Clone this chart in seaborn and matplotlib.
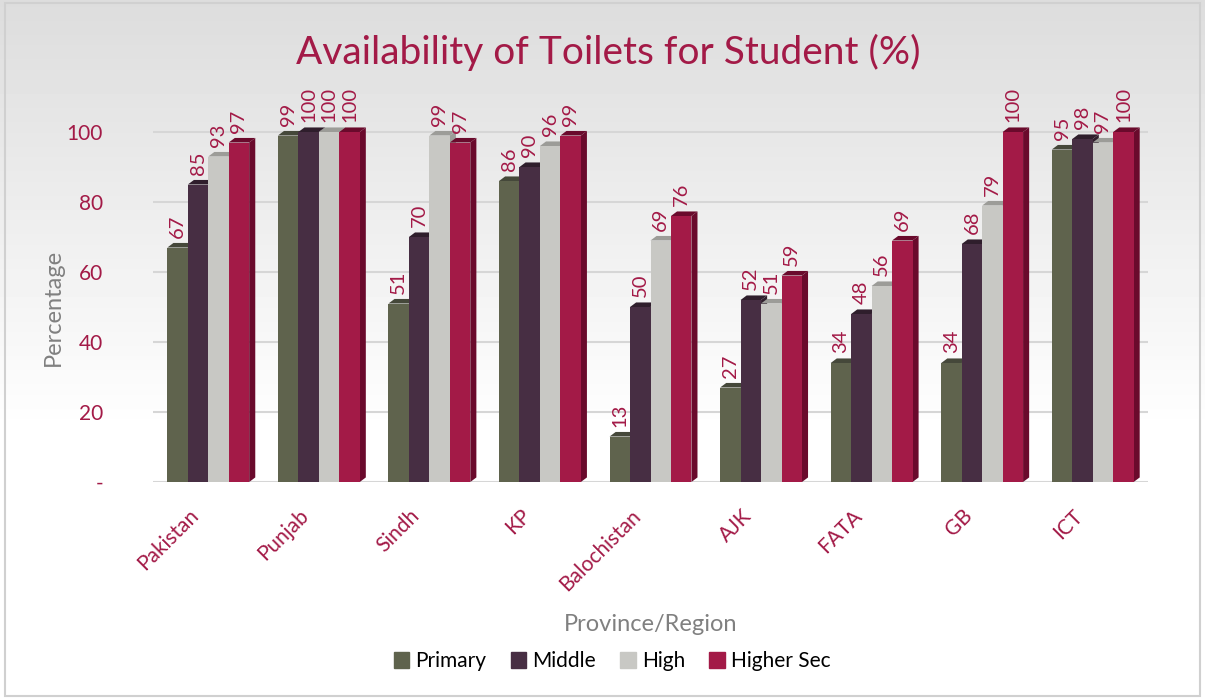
import matplotlib.pyplot as plt
import matplotlib.patches as mpatches
import matplotlib.transforms as mtransforms
import pandas as pd
import seaborn as sns
import numpy as np

# Data
regions = ['Pakistan', 'Punjab', 'Sindh', 'KP', 'Balochistan', 'AJK', 'FATA', 'GB', 'ICT']
primary = [67, 99, 51, 86, 13, 27, 34, 34, 95]
middle = [85, 100, 70, 90, 50, 52, 48, 68, 98]
high = [93, 100, 99, 96, 69, 51, 56, 79, 97]
higher_sec = [97, 100, 97, 99, 76, 59, 69, 100, 100]
levels = ['Primary', 'Middle', 'High', 'Higher Sec']
colors = ['#5f634d', '#472e43', '#c8c8c4', '#a31a47']
side_colors = ['#45483a', '#2f1e2c', '#9c9c98', '#6a0a2c']
y_ticks = [0, 20, 40, 60, 80, 100]
y_ticklabels = ['-', '20', '40', '60', '80', '100']

crimson = '#a31a47'
gray_txt = '#808080'

df = pd.DataFrame({'Region': regions, 'Primary': primary, 'Middle': middle,
                   'High': high, 'Higher Sec': higher_sec})
df_long = df.melt(id_vars='Region', var_name='Level', value_name='Value')

sns.set_style('white')
plt.rcParams['font.family'] = ['Lato', 'DejaVu Sans']

fig = plt.figure(figsize=(12.05, 6.99), dpi=100)

# background gradient
bg = fig.add_axes([0, 0, 1, 1], zorder=-5)
grad = np.ones((200, 1))
ramp = np.clip(np.linspace(0, 1, 200) / 0.62, 0, 1)
grad[:, 0] = 0.865 + (1 - 0.865) * ramp
bg.imshow(grad, aspect='auto', cmap='gray', vmin=0, vmax=1, extent=[0, 1, 0, 1], origin='upper')
bg.add_patch(mpatches.Rectangle((0.004, 0.004), 0.992, 0.992, fill=False, ec='#d0d0d0', lw=1.5))
bg.set_xlim(0, 1)
bg.set_ylim(0, 1)
bg.axis('off')

ax = fig.add_axes([153 / 1205, 1 - 482 / 699, (1148 - 153) / 1205, (482 - 80) / 699])
ax.patch.set_alpha(0)

sns.barplot(data=df_long, x='Region', y='Value', hue='Level', hue_order=levels,
            palette=colors, order=regions, width=0.74, ax=ax, saturation=1,
            edgecolor='none', zorder=3)
ax.legend_.remove()

ymax = (482 - 80) / 3.5
ax.set_xlim(-0.5, len(regions) - 0.5)
ax.set_ylim(0, ymax)

# pseudo-3D faces plus value labels
dx, dy = 0.055, 1.3
for i, cont in enumerate(ax.containers):
    for bar in cont:
        x, w, h = bar.get_x(), bar.get_width(), bar.get_height()
        side = mpatches.Polygon([(x + w, 0), (x + w + dx, dy), (x + w + dx, h + dy), (x + w, h)],
                                closed=True, fc=side_colors[i], ec='none', zorder=2)
        top = mpatches.Polygon([(x, h), (x + dx, h + dy), (x + w + dx, h + dy), (x + w, h)],
                               closed=True, fc=side_colors[i], ec='none', zorder=2)
        ax.add_patch(side)
        ax.add_patch(top)
    ax.bar_label(cont, labels=[f'{v:.0f}' for v in cont.datavalues], rotation=90,
                 color=crimson, fontsize=14.5, padding=7)

for t in y_ticks:
    ax.axhline(t, color='#d6d6d6', lw=1.5, zorder=1)

ax.set_yticks(y_ticks)
ax.set_yticklabels(y_ticklabels, color=crimson, fontsize=15)
ax.tick_params(axis='y', length=0, pad=36)
ax.set_xticks(range(len(regions)))
ax.set_xticklabels(regions, rotation=45, ha='right', rotation_mode='anchor',
                   color=crimson, fontsize=15)
ax.tick_params(axis='x', length=0, pad=17)
shift = mtransforms.ScaledTranslation(-20 / 100, 0, fig.dpi_scale_trans)
for lbl in ax.get_xticklabels():
    lbl.set_transform(lbl.get_transform() + shift)

ax.set_ylabel('Percentage', color=gray_txt, fontsize=17)
ax.yaxis.set_label_coords(-0.09, 50 / ymax)
ax.set_xlabel('Province/Region', color=gray_txt, fontsize=17, labelpad=14)
sns.despine(ax=ax, left=True, bottom=True)

fig.text(0.505, 0.925, 'Availability of Toilets for Student (%)', ha='center', va='center',
         color=crimson, fontsize=28)

handles = [mpatches.Patch(color=c, label=l) for c, l in zip(colors, levels)]
fig.legend(handles=handles, loc='center', bbox_to_anchor=(0.508, 0.054), ncol=4,
           frameon=False, fontsize=15, handlelength=0.75, handleheight=0.75,
           handletextpad=0.3, columnspacing=1.15, labelcolor='black')

fig.savefig('out.png', dpi=100)
